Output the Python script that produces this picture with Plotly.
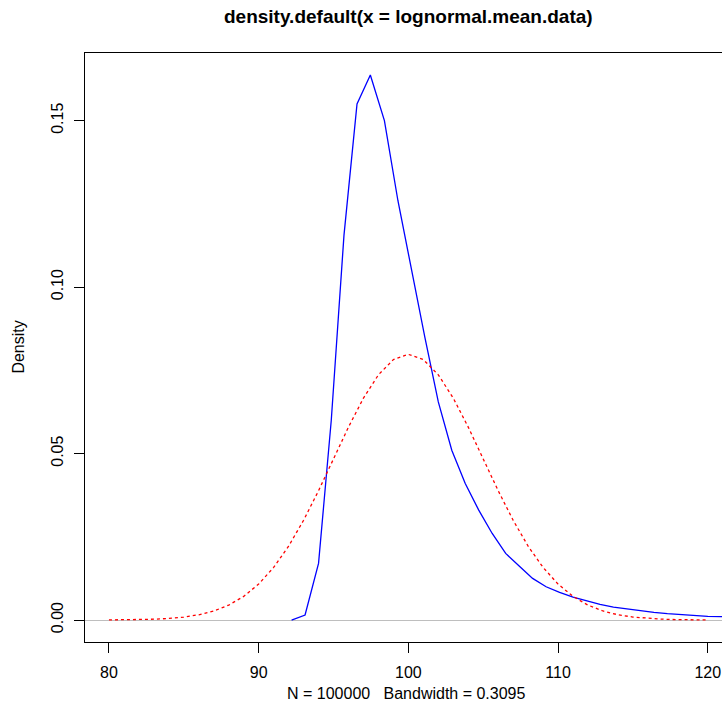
import plotly.graph_objects as go

# Kernel density estimate (blue)
density_x = [92.2, 93.1, 94.0, 94.85, 95.7, 96.57, 97.46, 98.4, 99.3, 100.2,
             101.1, 102.0, 102.9, 103.8, 104.7, 105.6, 106.5, 107.4, 108.3,
             109.2, 110.1, 111.0, 111.9, 112.8, 113.7, 114.6, 115.5, 116.4,
             117.3, 118.2, 119.1, 120.0, 120.9, 121.8]
density_y = [0.0, 0.0015, 0.017, 0.060, 0.1156, 0.155, 0.1637, 0.150, 0.126,
             0.105, 0.085, 0.0655, 0.051, 0.041, 0.033, 0.026, 0.020, 0.0162,
             0.0125, 0.0100, 0.0083, 0.0069, 0.0058, 0.0047, 0.0039, 0.0033,
             0.0028, 0.0023, 0.0019, 0.0016, 0.0013, 0.0011, 0.0010, 0.0009]

# Reference normal curve (red dotted)
normal_x = list(range(80, 121))
normal_y = [0.00003, 0.00006, 0.00012, 0.00025, 0.00048, 0.00089, 0.00158,
            0.00271, 0.00447, 0.00709, 0.01080, 0.01579, 0.02218, 0.02995,
            0.03884, 0.04839, 0.05794, 0.06664, 0.07365, 0.07821, 0.07979,
            0.07821, 0.07365, 0.06664, 0.05794, 0.04839, 0.03884, 0.02995,
            0.02218, 0.01579, 0.01080, 0.00709, 0.00447, 0.00271, 0.00158,
            0.00089, 0.00048, 0.00025, 0.00012, 0.00006, 0.00003]

x_ticks = [80, 90, 100, 110, 120]
y_ticks = [0.0, 0.05, 0.10, 0.15]
y_tick_labels = ["0.00", "0.05", "0.10", "0.15"]

title_text = "density.default(x = lognormal.mean.data)"
x_label = "N = 100000   Bandwidth = 0.3095"
y_label = "Density"

FONT = "Liberation Sans, Arial, Helvetica, sans-serif"

fig = go.Figure()
fig.add_trace(go.Scatter(x=density_x, y=density_y, mode="lines",
                         line=dict(color="#0000FF", width=1.3),
                         hoverinfo="skip", showlegend=False))
fig.add_trace(go.Scatter(x=normal_x, y=normal_y, mode="lines",
                         line=dict(color="#FF0000", width=1.3, dash="3px,3px"),
                         hoverinfo="skip", showlegend=False))

fig.update_layout(
    width=722, height=719,
    margin=dict(l=85, r=0, t=53, b=77),
    paper_bgcolor="white", plot_bgcolor="white",
    font=dict(family=FONT, size=16, color="black"),
    showlegend=False,
    xaxis=dict(range=[78.40, 120.95], tickvals=x_ticks,
               ticktext=[str(v) for v in x_ticks],
               showgrid=False, zeroline=False,
               showline=True, linecolor="black", linewidth=1, mirror=True,
               ticks="outside", ticklen=10, tickcolor="black", tickwidth=1,
               ticklabelstandoff=6, tickfont=dict(size=16)),
    yaxis=dict(range=[-0.0066, 0.1703], tickvals=y_ticks, ticktext=y_tick_labels,
               showgrid=False, zeroline=True, zerolinecolor="#BEBEBE",
               zerolinewidth=1,
               showline=True, linecolor="black", linewidth=1,
               ticks="outside", ticklen=10, tickcolor="black", tickwidth=1,
               ticklabelstandoff=5,
               tickangle=-90, tickfont=dict(size=16)),
    annotations=[
        dict(text="<b>" + title_text + "</b>", xref="paper", yref="paper",
             x=0.5086, y=1.0628, xanchor="center", yanchor="middle",
             showarrow=False, font=dict(size=19)),
        dict(text=x_label, xref="paper", yref="paper",
             x=0.504, y=-0.0866, xanchor="center", yanchor="middle",
             showarrow=False, font=dict(size=16)),
        dict(text=y_label, xref="paper", yref="paper",
             x=-0.105, y=0.5, xanchor="center", yanchor="middle",
             textangle=-90, showarrow=False, font=dict(size=16)),
    ],
)

fig.write_html("out.html")
